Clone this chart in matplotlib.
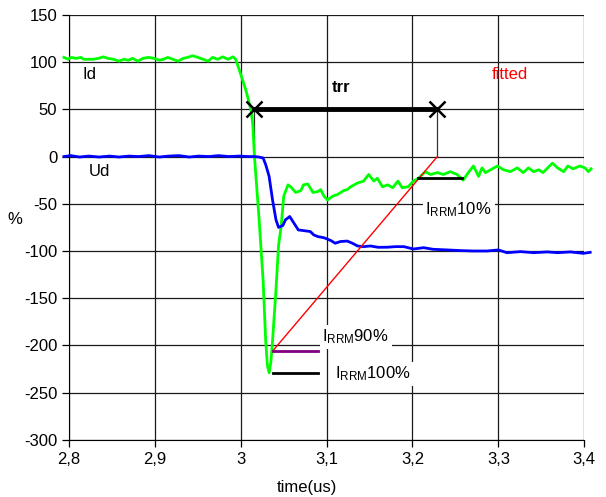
import matplotlib
matplotlib.use('Agg')
import matplotlib.pyplot as plt
from matplotlib.ticker import FuncFormatter

plt.rcParams['font.family'] = ['Liberation Sans', 'DejaVu Sans']
plt.rcParams['mathtext.fontset'] = 'custom'
plt.rcParams['mathtext.rm'] = 'Liberation Sans'
plt.rcParams['axes.unicode_minus'] = False

# Id (current)
id_t = [2.794, 2.799, 2.802, 2.808, 2.814, 2.817, 2.828, 2.834, 2.840, 2.845,
        2.852, 2.858, 2.864, 2.869, 2.874, 2.880, 2.886, 2.892, 2.899, 2.905,
        2.910, 2.915, 2.921, 2.927, 2.933, 2.938, 2.944, 2.950, 2.956, 2.962,
        2.967, 2.973, 2.979, 2.985, 2.991, 2.994, 2.998, 3.000, 3.006, 3.012,
        3.014, 3.016, 3.021, 3.026, 3.029, 3.031, 3.033, 3.035, 3.037, 3.041,
        3.044, 3.047, 3.050, 3.055, 3.058, 3.064, 3.070, 3.073, 3.078, 3.084,
        3.090, 3.093, 3.097, 3.101, 3.107, 3.113, 3.120, 3.124, 3.128, 3.136,
        3.143, 3.149, 3.155, 3.159, 3.165, 3.171, 3.177, 3.183, 3.188, 3.195,
        3.201, 3.207, 3.215, 3.221, 3.229, 3.236, 3.244, 3.252, 3.259, 3.265,
        3.271, 3.277, 3.281, 3.285, 3.291, 3.299, 3.306, 3.314, 3.322, 3.329,
        3.335, 3.341, 3.347, 3.352, 3.363, 3.369, 3.376, 3.381, 3.387, 3.395,
        3.401, 3.405, 3.408]
id_v = [105, 103, 105, 104, 105, 103, 103, 104, 105.6, 104,
        103, 101, 103, 102, 104, 101, 104, 105, 104, 102,
        103, 105, 103, 101, 104, 105, 106.7, 105, 103, 101,
        105, 103, 105.6, 103, 105.6, 103, 92.5, 87, 70, 49,
        34, -1, -62, -131, -195, -221, -229, -218, -195, -141,
        -94, -74, -42, -30, -32, -38, -36, -30, -29, -38,
        -37, -35, -42, -46, -42, -40, -36, -35, -32, -28,
        -26, -19, -26, -23, -32, -30, -33, -26, -33, -32,
        -26, -23, -16, -19, -17, -19, -16, -19, -25, -17,
        -10, -21, -12, -17, -14, -10, -14, -16, -12, -17,
        -12, -16, -14, -17, -7, -12, -16, -10, -13, -10,
        -12, -16, -13]

# Ud (voltage)
ud_t = [2.794, 2.802, 2.812, 2.823, 2.835, 2.847, 2.858, 2.870, 2.881, 2.893,
        2.905, 2.916, 2.928, 2.940, 2.951, 2.963, 2.974, 2.986, 2.998, 3.009,
        3.016, 3.021, 3.026, 3.029, 3.033, 3.037, 3.041, 3.044, 3.049, 3.052,
        3.057, 3.062, 3.067, 3.073, 3.081, 3.085, 3.090, 3.097, 3.105, 3.110,
        3.116, 3.124, 3.130, 3.136, 3.143, 3.151, 3.160, 3.171, 3.180, 3.190,
        3.201, 3.213, 3.224, 3.241, 3.256, 3.271, 3.287, 3.300, 3.310, 3.326,
        3.341, 3.357, 3.369, 3.384, 3.399, 3.407]
ud_v = [0, 1, -0.5, 0.5, -0.5, 0.5, -0.5, 0.5, 0, 1,
        -0.5, 0.5, 1, -0.5, 0.5, 0, 1, 0, 0.5, 0,
        0, -0.5, -1.5, -8.5, -21, -46, -67, -75, -73, -67,
        -63.5, -70.6, -77.7, -78.4, -79.4, -83, -84.8, -86, -89, -91.8,
        -90, -89.5, -91.8, -94.7, -95.4, -94.7, -96.1, -96, -95.4, -95.4,
        -97.9, -96.5, -98.2, -98.9, -99.6, -100, -100, -98.9, -101.8, -100.7,
        -101.8, -101, -101.8, -101, -102.5, -101.4]

# trr markers and fitted line
trr_t = [3.015, 3.229]
trr_v = [50, 50]
fit_t = [3.229, 3.038]
fit_v = [0, -205]
irrm_t = [3.038, 3.090]
irrm90 = -206
irrm100 = -229
irrm10_t = [3.207, 3.258]
irrm10 = -23

fig = plt.figure(figsize=(6.06, 4.97), dpi=100)
ax = fig.add_axes([0.114, 0.115, 0.85, 0.855])

ax.set_xlim(2.8, 3.4)
ax.set_ylim(-300, 150)
ax.set_xticks([2.8, 2.9, 3.0, 3.1, 3.2, 3.3, 3.4])
ax.set_yticks(range(-300, 151, 50))
ax.xaxis.set_major_formatter(FuncFormatter(lambda v, p: ('%g' % round(v, 2)).replace('.', ',')))
ax.grid(True, color='#1a1a1a', lw=0.9)
ax.set_axisbelow(True)
for s in ['top', 'right']:
    ax.spines[s].set_visible(False)
ax.tick_params(direction='out', length=5, labelsize=12, width=0.9)

ax.plot(id_t, id_v, color='#00ff00', lw=2, clip_on=False, zorder=3)
ax.plot(ud_t, ud_v, color='#0000ff', lw=2, clip_on=False, zorder=3)

# trr
for t in trr_t:
    ax.plot([t, t], [0, 50], color='#333333', lw=0.9, zorder=2)
ax.plot(trr_t, trr_v, color='black', lw=3.5, marker='x', ms=11, mew=1.8, zorder=4)
ax.plot(fit_t, fit_v, color='red', lw=1, zorder=4)
ax.plot(irrm_t, [irrm90, irrm90], color='#800080', lw=2, zorder=4)
ax.plot(irrm_t, [irrm100, irrm100], color='black', lw=2, zorder=4)
ax.plot(irrm10_t, [irrm10, irrm10], color='black', lw=2, zorder=4)

box = dict(facecolor='white', edgecolor='none', pad=2)
ax.text(2.816, 87, 'Id', fontsize=12, ha='left', va='center', bbox=box, zorder=2.5)
ax.text(2.823, -16, 'Ud', fontsize=12, ha='left', va='center', zorder=2.5)
ax.text(3.117, 73, 'trr', fontsize=12, fontweight='bold', ha='center', va='center')
ax.text(3.314, 87, 'fitted', fontsize=12, color='red', ha='center', va='center')
ax.text(3.095, -191, r'$\mathregular{I_{RRM}}$90%', fontsize=12, ha='left', va='center', bbox=box, zorder=2.5)
ax.text(3.110, -230, r'$\mathregular{I_{RRM}}$100%', fontsize=12, ha='left', va='center', bbox=box, zorder=2.5)
ax.text(3.215, -56, r'$\mathregular{I_{RRM}}$10%', fontsize=12, ha='left', va='center', bbox=box, zorder=2.5)

ax.set_ylabel('%', fontsize=12, rotation=0, labelpad=0)
ax.yaxis.set_label_coords(-0.105, 0.5)
ax.set_xlabel('time(us)', fontsize=12, labelpad=2)
ax.xaxis.set_label_coords(0.462, -0.095)

fig.savefig('out.png', dpi=100)
